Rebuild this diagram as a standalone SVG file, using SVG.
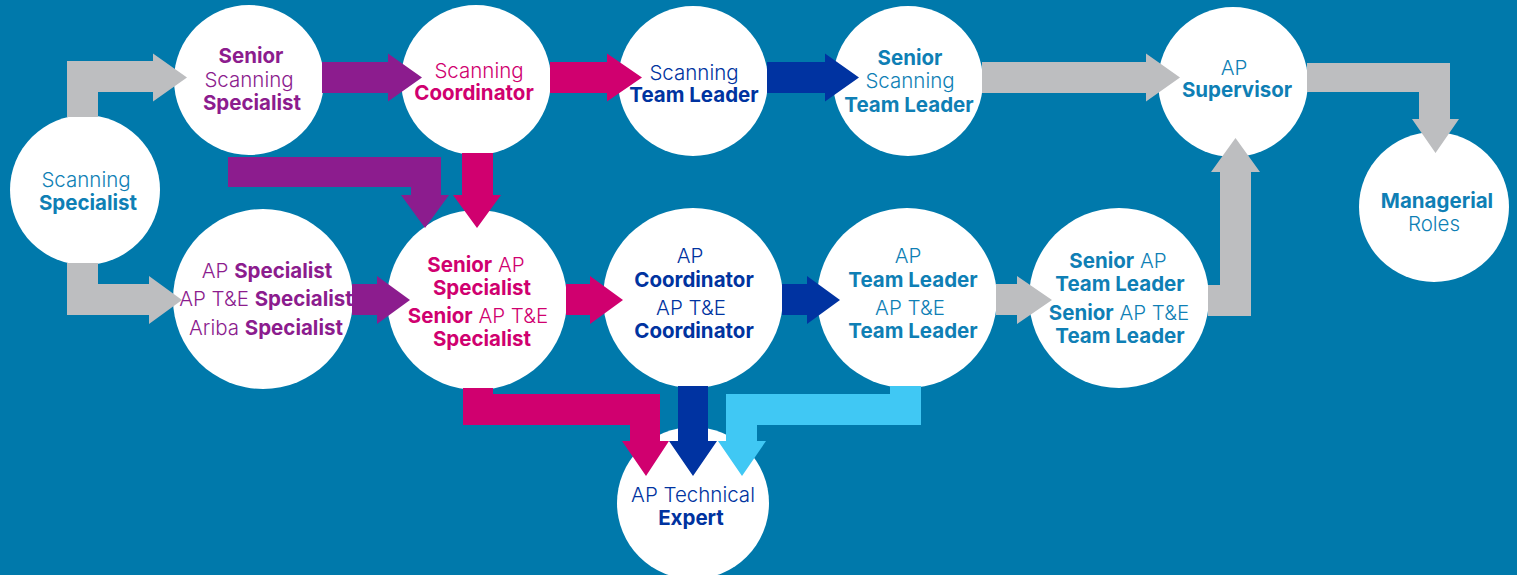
<svg xmlns="http://www.w3.org/2000/svg" width="1517" height="575" viewBox="0 0 1517 575">
<style>
text{font-family:Inter,"Liberation Sans",sans-serif;font-size:20.5px;text-anchor:middle}
.l{font-weight:300}
.b{font-weight:700}
.node{fill:#ffffff}
.teal{fill:#0F7FB5}
.purple{fill:#8C1C8E}
.magenta{fill:#D0006F}
.navy{fill:#0033A0}
.c-gray{fill:#BDBEC0}
.c-purple{fill:#8C1C8E}
.c-magenta{fill:#D0006F}
.c-navy{fill:#0033A1}
.c-light{fill:#40C8F4}
</style>
<rect width="1517" height="575" fill="#0079AB"/>

<g id="n-scanning-specialist">
<circle class="node" cx="85" cy="190" r="75"/>
<text class="teal" x="86" y="187"><tspan class="l">Scanning</tspan></text>
<text class="teal" x="88" y="210"><tspan class="b">Specialist</tspan></text>
</g>

<g id="n-senior-scanning-specialist">
<circle class="node" cx="249" cy="80" r="75"/>
<text class="purple" x="251" y="63"><tspan class="b">Senior</tspan></text>
<text class="purple" x="249" y="87"><tspan class="l">Scanning</tspan></text>
<text class="purple" x="252" y="110"><tspan class="b">Specialist</tspan></text>
</g>

<g id="n-scanning-coordinator">
<circle class="node" cx="476" cy="80" r="75"/>
<text class="magenta" x="479" y="78"><tspan class="l">Scanning</tspan></text>
<text class="magenta" x="474" y="100"><tspan class="b">Coordinator</tspan></text>
</g>

<g id="n-scanning-team-leader">
<circle class="node" cx="693" cy="81" r="75"/>
<text class="navy" x="694" y="80"><tspan class="l">Scanning</tspan></text>
<text class="navy" x="694" y="102"><tspan class="b">Team Leader</tspan></text>
</g>

<g id="n-senior-scanning-team-leader">
<circle class="node" cx="908" cy="81" r="75"/>
<text class="teal" x="910" y="65"><tspan class="b">Senior</tspan></text>
<text class="teal" x="910" y="88"><tspan class="l">Scanning</tspan></text>
<text class="teal" x="909" y="112"><tspan class="b">Team Leader</tspan></text>
</g>

<g id="n-ap-supervisor">
<circle class="node" cx="1233" cy="82" r="75"/>
<text class="teal" x="1234" y="75"><tspan class="l">AP</tspan></text>
<text class="teal" x="1237" y="97"><tspan class="b">Supervisor</tspan></text>
</g>

<g id="n-managerial-roles">
<circle class="node" cx="1434" cy="207" r="75"/>
<text class="teal" x="1437" y="208"><tspan class="b">Managerial</tspan></text>
<text class="teal" x="1434" y="231"><tspan class="l">Roles</tspan></text>
</g>

<g id="n-ap-specialist">
<circle class="node" cx="263" cy="299" r="90"/>
<text class="purple" x="267" y="278"><tspan class="l">AP </tspan><tspan class="b">Specialist</tspan></text>
<text class="purple" x="266" y="306"><tspan class="l">AP T&amp;E </tspan><tspan class="b">Specialist</tspan></text>
<text class="purple" x="266" y="335"><tspan class="l">Ariba </tspan><tspan class="b">Specialist</tspan></text>
</g>

<g id="n-senior-ap-specialist">
<circle class="node" cx="477" cy="300" r="90"/>
<text class="magenta" x="476" y="272"><tspan class="b">Senior</tspan><tspan class="l"> AP</tspan></text>
<text class="magenta" x="482" y="295"><tspan class="b">Specialist</tspan></text>
<text class="magenta" x="478" y="323"><tspan class="b">Senior</tspan><tspan class="l"> AP T&amp;E</tspan></text>
<text class="magenta" x="482" y="346"><tspan class="b">Specialist</tspan></text>
</g>

<g id="n-ap-coordinator">
<circle class="node" cx="693" cy="298" r="90"/>
<text class="navy" x="690" y="263"><tspan class="l">AP</tspan></text>
<text class="navy" x="694" y="287"><tspan class="b">Coordinator</tspan></text>
<text class="navy" x="691" y="315"><tspan class="l">AP T&amp;E</tspan></text>
<text class="navy" x="694" y="338"><tspan class="b">Coordinator</tspan></text>
</g>

<g id="n-ap-team-leader">
<circle class="node" cx="907" cy="298" r="90"/>
<text class="teal" x="908" y="263"><tspan class="l">AP</tspan></text>
<text class="teal" x="913" y="287"><tspan class="b">Team Leader</tspan></text>
<text class="teal" x="910" y="315"><tspan class="l">AP T&amp;E</tspan></text>
<text class="teal" x="913" y="338"><tspan class="b">Team Leader</tspan></text>
</g>

<g id="n-senior-ap-team-leader">
<circle class="node" cx="1119" cy="298" r="90"/>
<text class="teal" x="1118" y="268"><tspan class="b">Senior</tspan><tspan class="l"> AP</tspan></text>
<text class="teal" x="1120" y="291"><tspan class="b">Team Leader</tspan></text>
<text class="teal" x="1119" y="320"><tspan class="b">Senior</tspan><tspan class="l"> AP T&amp;E</tspan></text>
<text class="teal" x="1120" y="343"><tspan class="b">Team Leader</tspan></text>
</g>

<g id="n-ap-technical-expert">
<circle class="node" cx="693" cy="503" r="76"/>
<text class="navy" x="693" y="502"><tspan class="l">AP Technical</tspan></text>
<text class="navy" x="691" y="525"><tspan class="b">Expert</tspan></text>
</g>

<g id="connectors">
<polygon class="c-gray" points="67,117 67,61 153,61 153,53.5 187,77.5 153,101.5 153,92 98,92 98,117"/>
<polygon class="c-gray" points="67,263 67,315 149,315 149,324 182,300 149,276 149,284 98,284 98,263"/>
<polygon class="c-purple" points="322,62 388,62 388,53.5 422,77.5 388,101.5 388,93 322,93"/>
<polygon class="c-purple" points="228,157 441,157 441,195 449,195 425,228 401,195 411,195 411,187 228,187"/>
<polygon class="c-purple" points="352,284 377,284 377,276 410,300 377,324 377,315 352,315"/>
<polygon class="c-magenta" points="550,62 607,62 607,53.5 642,77.5 607,101.5 607,93 550,93"/>
<polygon class="c-magenta" points="462,153 493,153 493,195 501,195 477,228 453,195 462,195"/>
<polygon class="c-magenta" points="566,284 590,284 590,276 623,300 590,324 590,315 566,315"/>
<polygon class="c-magenta" points="463,388 493,388 493,394 660,394 660,441 669,441 646,476 622,441 630,441 630,425 463,425"/>
<polygon class="c-navy" points="767,62 825,62 825,53.5 859,77.5 825,101.5 825,93 767,93"/>
<polygon class="c-navy" points="782,284 807,284 807,276 840,300 807,324 807,315 782,315"/>
<polygon class="c-navy" points="678,386 708,386 708,441 717,441 693,476 669,441 678,441"/>
<polygon class="c-light" points="890,386 921,386 921,425 757,425 757,441 766,441 742,476 718,441 726,441 726,394 890,394"/>
<polygon class="c-gray" points="982,62 1146,62 1146,53.5 1180,77.5 1146,101.5 1146,93 982,93"/>
<polygon class="c-gray" points="996,284 1017,284 1017,276 1052,300 1017,324 1017,315 996,315"/>
<polygon class="c-gray" points="1208,285 1220,285 1220,172 1211,172 1235.5,138 1260,172 1251,172 1251,316 1208,316"/>
<polygon class="c-gray" points="1307,63 1450,63 1450,119 1459,119 1435.5,153 1412,119 1419,119 1419,92 1307,92"/>
</g>
</svg>
